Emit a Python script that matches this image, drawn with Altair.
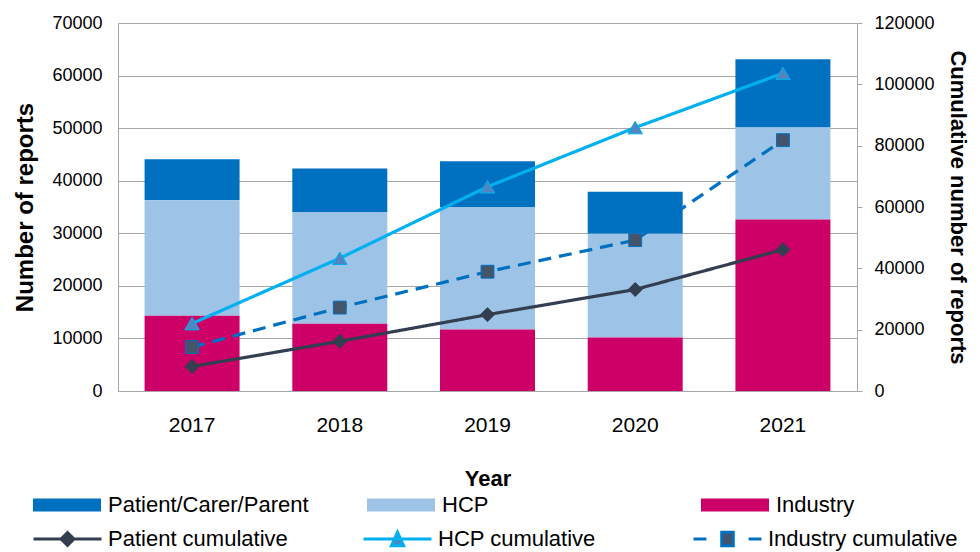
import altair as alt
import pandas as pd

years = ["2017", "2018", "2019", "2020", "2021"]

# stacked bar components (left axis)
industry = [14300, 12800, 11700, 10200, 32600]
hcp = [22000, 21250, 23300, 19700, 17500]
patient = [7800, 8250, 8700, 8000, 13000]

# cumulative lines (right axis)
patient_cum = [8000, 16200, 24900, 33100, 46100]
hcp_cum = [22000, 43300, 66600, 85900, 103600]
industry_cum = [14300, 27200, 38900, 49200, 81800]

bar_series = ["Patient/Carer/Parent", "HCP", "Industry"]
bar_colors = ["#0070c0", "#9dc3e6", "#cc0066"]
bar_order = {"Industry": 0, "HCP": 1, "Patient/Carer/Parent": 2}

line_series = ["Patient cumulative", "HCP cumulative", "Industry cumulative"]
line_styles = ["solid", "solid", "dashed"]
line_colors = ["#333f50", "#00b0f0", "#0070c0"]
marker_colors = ["#333f50", "#4f86c0", "#44546a"]
marker_shapes = ["diamond", "triangle-up", "square"]
marker_sizes = [196, 210, 165]
legend_shapes = [
    "M-1,0H1M0,-0.19L0.19,0L0,0.19L-0.19,0Z",
    "M-1,0H1M-0.18,0.2L0,-0.2L0.18,0.2Z",
    "M-1,0H-0.62M0.62,0H1M-0.17,-0.2H0.17V0.2H-0.17Z",
]

left_ticks = [0, 10000, 20000, 30000, 40000, 50000, 60000, 70000]
right_ticks = [0, 20000, 40000, 60000, 80000, 100000, 120000]

FONT = "Liberation Sans"
GRID = "#a6a6a6"

bar_rows = []
for name, vals in zip(["Patient/Carer/Parent", "HCP", "Industry"], [patient, hcp, industry]):
    for y, v in zip(years, vals):
        bar_rows.append({"year": y, "series": name, "value": v, "ord": bar_order[name]})
bars_df = pd.DataFrame(bar_rows)

line_rows = []
for name, style, vals in zip(line_series, line_styles, [patient_cum, hcp_cum, industry_cum]):
    for y, v in zip(years, vals):
        line_rows.append({"year": y, "series": name, "style": style, "value": v})
lines_df = pd.DataFrame(line_rows)

x_enc = alt.X(
    "year:N",
    sort=years,
    scale=alt.Scale(paddingInner=0.357, paddingOuter=0.18),
    axis=alt.Axis(
        title="Year", labelAngle=0, ticks=False, domainColor=GRID,
        labelFontSize=21, labelPadding=23, labelColor="black",
        titleFontSize=22, titleFontWeight="bold", titlePadding=33, titleColor="black",
    ),
)

bar_legend = alt.Legend(
    orient="none", legendX=-85, legendY=471, direction="horizontal", columns=3,
    gridAlign="all", columnPadding=58, symbolType="M-1,-0.19H1V0.19H-1Z",
    symbolSize=4624, symbolStrokeWidth=0, clipHeight=22, labelFontSize=22,
    labelOffset=7, labelLimit=400, title=None, padding=0, labelColor="black",
)

line_legend = alt.Legend(
    orient="none", legendX=-86, legendY=505, direction="horizontal", columns=3,
    gridAlign="all", columnPadding=64, symbolSize=4624, symbolStrokeWidth=3,
    symbolOpacity=1, clipHeight=22, labelFontSize=22, labelOffset=5, labelLimit=400,
    title=None, padding=0, labelColor="black",
)

bars = alt.Chart(bars_df).mark_bar().encode(
    x=x_enc,
    y=alt.Y(
        "value:Q", stack="zero",
        scale=alt.Scale(domain=[0, 70000], nice=False),
        axis=alt.Axis(
            values=left_ticks, format="d", grid=True, gridColor=GRID, ticks=False,
            domainColor=GRID, labelFontSize=18, labelPadding=16, labelColor="black",
            title="Number of reports", titleFontSize=24, titleFontWeight="bold",
            titlePadding=14, titleColor="black",
        ),
    ),
    color=alt.Color("series:N", scale=alt.Scale(domain=bar_series, range=bar_colors), legend=bar_legend),
    order=alt.Order("ord:Q", sort="ascending"),
)

y_right = alt.Y(
    "value:Q",
    scale=alt.Scale(domain=[0, 120000], nice=False),
    axis=alt.Axis(
        orient="right", values=right_ticks, format="d", grid=False, ticks=True,
        tickSize=5, tickColor=GRID, domainColor=GRID, labelFontSize=18,
        labelPadding=12, labelColor="black", title="Cumulative number of reports",
        titleFontSize=22, titleFontWeight="bold", titlePadding=11, titleColor="black",
    ),
)

stroke_scale = alt.Scale(domain=line_series, range=line_colors)
fill_scale = alt.Scale(domain=line_series, range=marker_colors)

lines = alt.Chart(lines_df).mark_line(strokeWidth=3.2).encode(
    x=x_enc,
    y=y_right,
    detail="series:N",
    stroke=alt.Stroke("series:N", scale=stroke_scale, legend=line_legend),
    strokeDash=alt.StrokeDash("style:N", scale=alt.Scale(domain=["solid", "dashed"], range=[[1, 0], [13, 8]]), legend=None),
)

marker_layers = []
for name, shp, sz in zip(line_series, marker_shapes, marker_sizes):
    marker_layers.append(
        alt.Chart(lines_df).transform_filter(alt.datum.series == name)
        .mark_point(filled=True, shape=shp, size=sz, strokeWidth=1, opacity=1)
        .encode(
            x=x_enc,
            y=y_right,
            fill=alt.Fill("series:N", scale=fill_scale, legend=line_legend),
            stroke=alt.Stroke("series:N", scale=stroke_scale, legend=line_legend),
        )
    )

# layer that only carries the legend symbols (line + marker); drawn at zero size
legend_carrier = alt.Chart(lines_df).mark_point(filled=True, size=0, strokeWidth=0).encode(
    x=x_enc,
    y=y_right,
    fill=alt.Fill("series:N", scale=fill_scale, legend=line_legend),
    stroke=alt.Stroke("series:N", scale=stroke_scale, legend=line_legend),
    shape=alt.Shape("series:N", scale=alt.Scale(domain=line_series, range=legend_shapes), legend=line_legend),
)

right = alt.layer(lines, *marker_layers, legend_carrier)

chart = alt.layer(bars, right).resolve_scale(y="independent").properties(
    width=739,
    height=368,
    autosize=alt.AutoSizeParams(type="none"),
    padding={"left": 110, "top": 15, "right": 115, "bottom": 161},
).configure(font=FONT).configure_view(stroke=None)

chart.save("out.html", embed_options={"renderer": "svg", "actions": False})
